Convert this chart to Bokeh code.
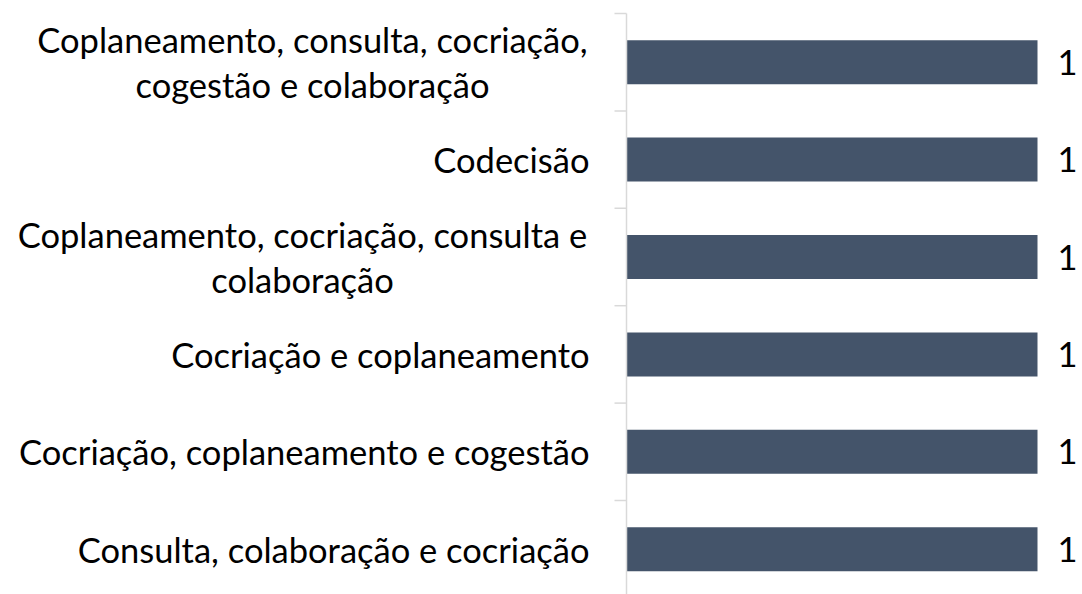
from bokeh.plotting import figure
from bokeh.models import Range1d, ColumnDataSource
from bokeh.core.properties import value
from bokeh.embed import file_html
from bokeh.resources import INLINE
import numpy as np

# ---- data ----
categories = [
    "Coplaneamento, consulta, cocriação,\ncogestão e colaboração",
    "Codecisão",
    "Coplaneamento, cocriação, consulta e\ncolaboração",
    "Cocriação e coplaneamento",
    "Cocriação, coplaneamento e cogestão",
    "Consulta, colaboração e cocriação",
]
values = [1, 1, 1, 1, 1, 1]
value_labels = ["1", "1", "1", "1", "1", "1"]

# ---- layout / style ----
W, H = 1082, 594
X0_PX = 626          # pixel position of x=0 inside the figure
UNIT_PX = 411        # pixels per unit of value
TOP_PX = 13          # pixel position of first category boundary
BAND_PX = 97.4       # category band height in px
FONT = "Lato"
FS = "34.5px"
BAR_COLOR = "#44546A"
AXIS_COLOR = "#D9D9D9"
LABEL_GAP = 37
# centre offsets (px, from x=0) for wrapped labels
wrap_center_offsets = {0: -314, 2: -324}

n = len(categories)
ypos = [i + 0.5 for i in range(n)]

p = figure(
    width=W, height=H, output_backend="svg", toolbar_location=None,
    x_range=Range1d(-X0_PX / UNIT_PX, (W - X0_PX) / UNIT_PX),
    y_range=Range1d((H - TOP_PX) / BAND_PX, -TOP_PX / BAND_PX),
    min_border=0, min_border_left=0, min_border_right=0,
    min_border_top=0, min_border_bottom=0,
)
p.xaxis.visible = False
p.yaxis.visible = False
p.grid.visible = False
p.outline_line_color = None
p.background_fill_color = "white"
p.border_fill_color = "white"

# bars
p.hbar(y=ypos, left=0, right=values, height=0.452, fill_color=BAR_COLOR, line_color=None)

# axis line and ticks
p.segment(x0=[0], y0=[0], x1=[0], y1=[n], line_color=AXIS_COLOR, line_width=1.5)
p.ray(x=[0] * (n + 1), y=list(range(n + 1)), length=12, length_units="screen",
      angle=np.pi, line_color=AXIS_COLOR, line_width=1.5)

# category labels
single = [i for i, c in enumerate(categories) if "\n" not in c]
wrapped = [i for i, c in enumerate(categories) if "\n" in c]
src1 = ColumnDataSource(dict(x=[0] * len(single), y=[ypos[i] for i in single],
                             t=[categories[i] for i in single]))
p.text(x="x", y="y", text="t", source=src1, text_align="right", text_baseline="middle",
       x_offset=-LABEL_GAP, text_font=value(FONT), text_font_size=FS, text_color="black")
src2 = ColumnDataSource(dict(x=[0] * len(wrapped), y=[ypos[i] for i in wrapped],
                             t=[categories[i] for i in wrapped],
                             xo=[wrap_center_offsets[i] for i in wrapped]))
p.text(x="x", y="y", text="t", source=src2, text_align="center", text_baseline="middle",
       x_offset="xo", text_font=value(FONT), text_font_size=FS, text_color="black",
       text_line_height=1.1)

# value labels
p.text(x=values, y=ypos, text=value_labels, text_align="left", text_baseline="middle",
       x_offset=20, text_font=value(FONT), text_font_size=FS, text_color="black")

open("out.html", "w").write(file_html(p, INLINE))
